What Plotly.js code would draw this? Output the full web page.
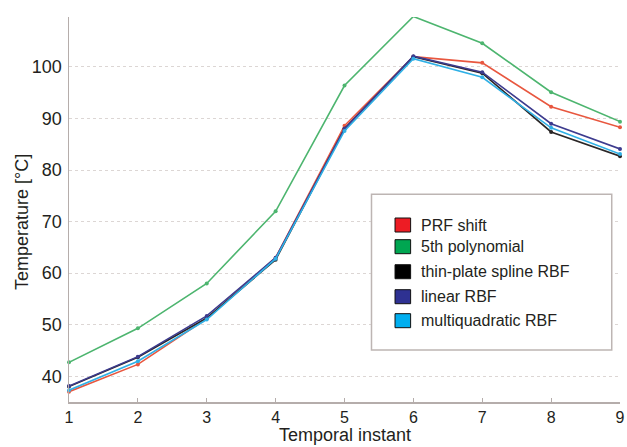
<!DOCTYPE html>
<html>
<head>
<meta charset="utf-8">
<script src="https://cdn.plot.ly/plotly-3.0.1.min.js"></script>
<style>html,body{margin:0;padding:0;background:#fff;}#chart{width:627px;height:447px;}</style>
</head>
<body>
<div id="chart"></div>
<script>
const instants = [1, 2, 3, 4, 5, 6, 7, 8, 9];
const prfShift = [37.0, 42.3, 51.2, 63.0, 88.6, 102.0, 100.8, 92.3, 88.3];
const poly5 = [42.7, 49.3, 58.0, 72.0, 96.4, 109.8, 104.6, 95.1, 89.4];
const thinPlate = [38.0, 43.7, 51.3, 62.6, 88.0, 102.0, 98.8, 87.4, 82.7];
const linearRbf = [38.1, 43.8, 51.7, 63.0, 88.0, 102.1, 99.0, 89.0, 84.1];
const multiquad = [37.3, 42.9, 51.0, 62.8, 87.6, 101.6, 98.0, 88.2, 83.1];
const seriesNames = ["PRF shift", "5th polynomial", "thin-plate spline RBF", "linear RBF", "multiquadratic RBF"];
const seriesData = [prfShift, poly5, thinPlate, linearRbf, multiquad];
const lineColors = ["#e8573f", "#4db56f", "#2a2626", "#3d3b8e", "#2fb0e6"];
const legendColors = ["#ed1c24", "#00a651", "#000000", "#2e3192", "#00aeef"];
const yTicks = [40, 50, 60, 70, 80, 90, 100];
const xTicks = [1, 2, 3, 4, 5, 6, 7, 8, 9];
const xTitle = "Temporal instant";
const yTitle = "Temperature [°C]";

const FONT = 'Liberation Sans, Arial, sans-serif';
const drawOrder = [1, 0, 2, 3, 4];
const traces = drawOrder.map(i => ({
  x: instants, y: seriesData[i], name: seriesNames[i], type: 'scatter', mode: 'lines+markers',
  line: {color: lineColors[i], width: 1.6}, marker: {color: lineColors[i], size: 4},
  showlegend: false, cliponaxis: false
}));

// custom legend (square swatches)
const lgLeft = 0.549, lgRight = 0.985, lgTop = 0.5395, lgBottom = 0.135;
const shapes = [{type: 'rect', xref: 'paper', yref: 'paper', x0: lgLeft, x1: lgRight, y0: lgBottom, y1: lgTop,
  line: {color: '#bdb5b3', width: 1.5}, fillcolor: '#ffffff'}];
const annotations = [];
const itemY = [0.4597, 0.4034, 0.3384, 0.2735, 0.2112];
seriesNames.forEach((n, i) => {
  shapes.push({type: 'rect', xref: 'paper', yref: 'paper', x0: 0.5917, x1: 0.620, y0: itemY[i] - 0.0182, y1: itemY[i] + 0.0182,
    line: {color: '#111', width: 1}, fillcolor: legendColors[i]});
  annotations.push({xref: 'paper', yref: 'paper', x: 0.635, y: itemY[i], xanchor: 'left', yanchor: 'middle',
    text: n, showarrow: false, font: {size: 16, color: '#231f20', family: FONT}});
});
annotations.push({xref: 'paper', yref: 'paper', x: -0.0853, y: 0.4675, xanchor: 'center', yanchor: 'middle',
  textangle: -90, text: yTitle, showarrow: false, font: {size: 18, color: '#231f20', family: FONT}});
annotations.push({xref: 'paper', yref: 'paper', x: 0.5, y: -0.1143, xanchor: 'center', yanchor: 'bottom',
  text: xTitle, showarrow: false, borderpad: 0, font: {size: 18, color: '#231f20', family: FONT}});

const layout = {
  width: 627, height: 447,
  margin: {l: 69, r: 7, t: 17, b: 45},
  paper_bgcolor: '#ffffff', plot_bgcolor: '#ffffff',
  font: {family: FONT, color: '#231f20'},
  xaxis: {range: [1, 9], tickvals: xTicks, ticktext: xTicks.map(String), showgrid: false, zeroline: false,
    showline: true, linecolor: '#b5adab', linewidth: 1.5, ticks: 'inside', ticklen: 4, tickcolor: '#b5adab',
    ticklabelstandoff: 0,
    tickfont: {size: 16, color: '#231f20'}},
  yaxis: {range: [35, 109.7], tickvals: yTicks, ticktext: yTicks.map(String), showgrid: true,
    gridcolor: '#dcd6d4', griddash: 'dot', gridwidth: 1, zeroline: false,
    showline: true, linecolor: '#b5adab', linewidth: 1.5, ticks: '', ticklabelstandoff: 2,
    tickfont: {size: 18, color: '#231f20'}},
  shapes: shapes, annotations: annotations, showlegend: false
};
Plotly.newPlot('chart', traces, layout, {displayModeBar: false, staticPlot: true});
</script>
</body>
</html>
